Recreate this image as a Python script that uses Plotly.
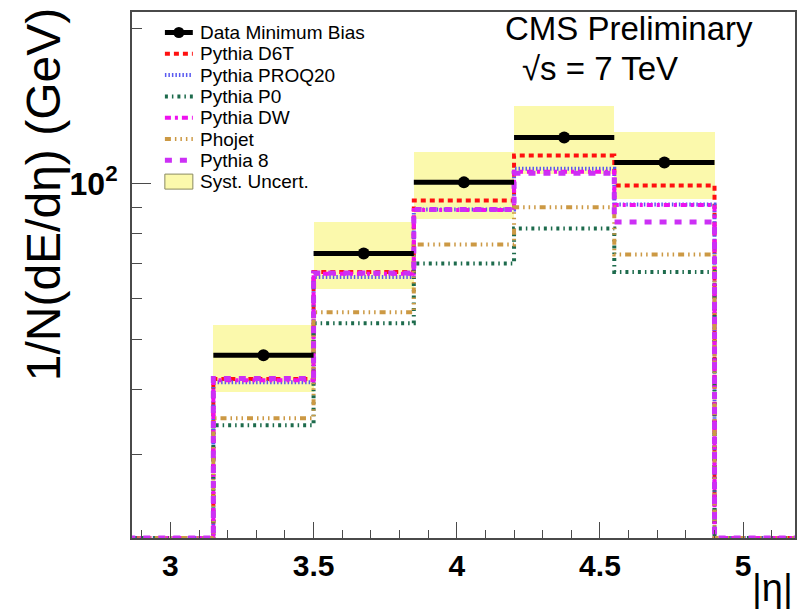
import math
import numpy as np
import plotly.graph_objects as go

# ---------------- data ----------------
bin_edges = [3.15, 3.5, 3.85, 4.2, 4.55, 4.9]
hist_lo, hist_hi = 2.853, 5.191          # histogram range (empty bins outside HF)

data_mb       = [46.6, 73.3, 100.6, 122.9, 109.9]
syst_hi       = [53.4, 84.2, 115.0, 141.1, 125.8]
syst_lo       = [39.5, 62.5, 85.3, 104.5, 93.4]
pythia_d6t    = [41.9, 67.5, 92.8, 113.4, 99.2]
pythia_proq20 = [41.3, 66.0, 89.2, 106.9, 91.2]
pythia_p0     = [34.1, 53.7, 70.1, 81.9, 67.5]
pythia_dw     = [41.7, 67.0, 89.0, 105.5, 91.0]
phojet        = [35.2, 56.4, 76.3, 90.0, 73.0]
pythia8       = [42.0, 67.2, 89.2, 104.8, 84.3]

x_range = [2.866, 5.181]
y_range = [20.65, 214.8]

x_major_ticks = [3, 3.5, 4, 4.5, 5]
x_major_text = ["3", "3.5", "4", "4.5", "5"]
y_major_ticks = [100]
y_major_text = ["10<sup>2</sup>"]
y_minor_ticks = [20, 30, 40, 50, 60, 70, 80, 90, 200]

FONT = "Liberation Sans"

mc_series = [
    ("Pythia D6T",    pythia_d6t,    "#ff1010", "5px,4px",                          4),
    ("Pythia PROQ20", pythia_proq20, "#5a5af0", "1.5px,2px",                        4),
    ("Pythia P0",     pythia_p0,     "#1d6b4c", "3px,4px,1.5px,4px",                4),
    ("Pythia DW",     pythia_dw,     "#ee11ee", "6px,4px,3px,4px",                  4),
    ("Phojet",        phojet,        "#cc9944", "6px,4px,1.5px,4px,1.5px,4px,1.5px,4px", 4),
    ("Pythia 8",      pythia8,       "#cc30f5", "7px,8px",                          5),
]

centers = [(a + b) / 2 for a, b in zip(bin_edges[:-1], bin_edges[1:])]
widths = [b - a for a, b in zip(bin_edges[:-1], bin_edges[1:])]
floor = y_range[0]  # empty bins drawn at the axis minimum (as ROOT does on log scale)

fig = go.Figure()

# systematic uncertainty boxes
fig.add_trace(go.Bar(
    x=centers, base=syst_lo, y=[h - l for h, l in zip(syst_hi, syst_lo)],
    width=widths, marker=dict(color="#fbf9ac", line=dict(width=0)),
    name="Syst. Uncert.", showlegend=False,
))

# MC step histograms
step_x = [hist_lo] + bin_edges + [hist_hi]
for name, vals, color, dash, lw in mc_series:
    step_y = [floor] + list(vals) + [floor, floor]
    fig.add_trace(go.Scatter(
        x=step_x, y=step_y, mode="lines", line=dict(shape="hv", color=color, dash=dash, width=lw),
        name=name, showlegend=False,
    ))

# data
fig.add_trace(go.Scatter(
    x=centers, y=data_mb, mode="markers",
    marker=dict(color="black", size=12, symbol="circle"),
    error_x=dict(type="data", array=[w / 2 for w in widths], color="black", thickness=5, width=0),
    name="Data Minimum Bias", showlegend=False,
))

# ---------------- axes ----------------
L, R, T, B = 132, 6, 12, 75
W, H = 803, 613
pw, ph = W - L - R, H - T - B

axis_common = dict(showgrid=False, zeroline=False, showline=True, mirror=True,
                   linecolor="#4a4a4a", linewidth=2, ticks="inside", tickcolor="#4a4a4a",
                   tickwidth=1)

fig.update_xaxes(range=x_range, tickmode="array", tickvals=x_major_ticks,
                 ticktext=["<b>%s</b>" % t for t in x_major_text], ticklen=16,
                 tickfont=dict(family=FONT, size=30, color="black"),
                 minor=dict(tickmode="array",
                            tickvals=[round(v, 2) for v in np.arange(2.9, 5.2, 0.1)],
                            ticks="inside", ticklen=8, tickcolor="#4a4a4a"),
                 **axis_common)
fig.update_yaxes(type="log", range=[math.log10(y_range[0]), math.log10(y_range[1])],
                 tickmode="array", tickvals=y_major_ticks,
                 ticktext=["<b>%s</b>" % t for t in y_major_text], ticklen=19,
                 ticklabelstandoff=6,
                 tickfont=dict(family=FONT, size=32, color="black"),
                 minor=dict(tickmode="array", tickvals=y_minor_ticks, ticks="inside",
                            ticklen=10, tickcolor="#4a4a4a"),
                 **axis_common)

def px2paper_x(px):
    return (px - L) / pw

def px2paper_y(py):
    return (H - B - py) / ph

P = dict(xref="paper", yref="paper", showarrow=False)
annotations = [
    dict(text="1/N(dE/dη) (GeV)", textangle=-90, x=px2paper_x(43), y=px2paper_y(195),
         xanchor="center", yanchor="middle", font=dict(family=FONT, size=48, color="black"), **P),
    dict(text="|η|", x=1.0, y=px2paper_y(588), xanchor="right", yanchor="middle",
         font=dict(family=FONT, size=38, color="black"), **P),
    dict(text="CMS Preliminary", x=px2paper_x(630), y=px2paper_y(28), xanchor="center",
         yanchor="middle", font=dict(family=FONT, size=33, color="black"), **P),
    dict(text="√s = 7 TeV", x=px2paper_x(601), y=px2paper_y(68), xanchor="center",
         yanchor="middle", font=dict(family=FONT, size=33, color="black"), **P),
]

# ---------------- legend (drawn in paper space) ----------------
legend_rows = ["Data Minimum Bias"] + [s[0] for s in mc_series] + ["Syst. Uncert."]
row0, row_step = 32.5, 21.3
sym_x0, sym_x1, txt_x = 165, 193, 198
shapes = []
for i, label in enumerate(legend_rows):
    yy = px2paper_y(row0 + i * row_step)
    annotations.append(dict(text=label, x=px2paper_x(txt_x), y=yy, xanchor="left",
                            yanchor="middle", font=dict(family=FONT, size=19, color="black"), **P))
    if i == 0:
        shapes.append(dict(type="line", xref="paper", yref="paper", x0=px2paper_x(sym_x0),
                           x1=px2paper_x(sym_x1), y0=yy, y1=yy, line=dict(color="black", width=5)))
        shapes.append(dict(type="circle", xref="paper", yref="paper", xsizemode="pixel",
                           ysizemode="pixel", xanchor=px2paper_x((sym_x0 + sym_x1) / 2), yanchor=yy,
                           x0=-5.5, x1=5.5, y0=-5.5, y1=5.5, fillcolor="black",
                           line=dict(color="black", width=0)))
    elif label == "Syst. Uncert.":
        shapes.append(dict(type="rect", xref="paper", yref="paper", xsizemode="pixel",
                           ysizemode="pixel", xanchor=px2paper_x((sym_x0 + sym_x1) / 2), yanchor=yy,
                           x0=-14, x1=14, y0=-7.5, y1=7.5, fillcolor="#fbf9ac",
                           line=dict(color="#8a8a60", width=1)))
    else:
        _, _, color, dash, lw = mc_series[i - 1]
        shapes.append(dict(type="line", xref="paper", yref="paper", x0=px2paper_x(sym_x0),
                           x1=px2paper_x(sym_x1), y0=yy, y1=yy,
                           line=dict(color=color, width=lw, dash=dash)))

fig.update_layout(
    width=W, height=H, margin=dict(l=L, r=R, t=T, b=B, pad=0),
    paper_bgcolor="white", plot_bgcolor="white", showlegend=False,
    annotations=annotations, shapes=shapes, bargap=0,
    font=dict(family=FONT, color="black"),
)

fig.write_html("out.html", config={"displayModeBar": False},
               post_script="document.body.style.margin='0px';")
